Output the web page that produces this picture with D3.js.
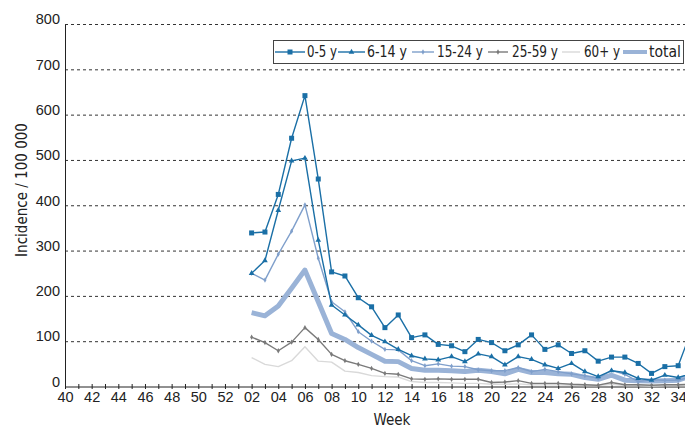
<!DOCTYPE html>
<html>
<head>
<meta charset="utf-8">
<style>
  body { margin: 0; background: #fff; }
  svg { display: block; font-family: "Liberation Sans Narrow", "DejaVu Sans Condensed", "Roboto", sans-serif; }
  .tick text { font-size: 14.5px; fill: #222; }
</style>
</head>
<body>
<svg width="685" height="430"></svg>
<script src="https://d3js.org/d3.v7.min.js"></script>
<script>

  // weeks on the axis: 40..52 then 01..35
  var allWeeks = d3.range(40, 53).concat(d3.range(1, 36)).map(function(w) { return (w < 10 ? "0" : "") + w; });
  var dataWeeks = d3.range(2, 36).map(function(w) { return (w < 10 ? "0" : "") + w; });
  var yTicks = [0, 100, 200, 300, 400, 500, 600, 700, 800];

  var age0_5   = [340, 342, 425, 549, 643, 459, 254, 245, 197, 177, 131, 159, 109, 115, 94, 91, 78, 105, 98, 80, 93, 115, 83, 93, 74, 80, 57, 66, 66, 52, 30, 45, 47, 125];
  var age6_14  = [251, 279, 390, 499, 505, 324, 181, 159, 137, 114, 100, 83, 69, 62, 60, 67, 56, 73, 67, 49, 67, 61, 49, 41, 52, 34, 23, 36, 32, 19, 15, 26, 21, 30];
  var age15_24 = [251, 236, 293, 344, 402, 284, 188, 166, 122, 101, 83, 82, 58, 47, 51, 46, 45, 38, 36, 36, 43, 34, 39, 34, 29, 25, 19, 37, 28, 12, 16, 15, 15, 22];
  var age25_59 = [110, 98, 80, 99, 131, 105, 72, 58, 50, 41, 30, 28, 18, 17, 18, 17, 17, 17, 10, 11, 14, 8, 8, 8, 6, 5, 4, 10, 5, 5, 4, 5, 5, 6];
  var age60    = [65, 50, 45, 58, 89, 57, 55, 35, 32, 25, 23, 22, 12, 10, 10, 9, 8, 8, 6, 6, 7, 5, 5, 5, 4, 3, 3, 6, 3, 3, 2, 3, 3, 3];
  var total    = [164, 157, 179, 218, 258, 188, 118, 105, 87, 72, 57, 56, 41, 37, 37, 36, 34, 37, 34, 29, 39, 32, 32, 29, 28, 21, 17, 26, 15, 14, 13, 14, 15, 25];

  var svg = d3.select("svg"),
      width = +svg.attr("width"),
      height = +svg.attr("height");

  var x0 = 65, y0 = 387, y1 = 24.5, step = 13.33;

  var x = d3.scalePoint().domain(allWeeks).range([x0, x0 + (allWeeks.length - 1) * step]);
  var y = d3.scaleLinear().domain([0, 800]).range([y0, y1]);

  // dashed grid
  svg.append("g").selectAll("line")
    .data(yTicks.slice(1))
    .enter().append("line")
      .attr("x1", x0).attr("x2", width)
      .attr("y1", function(d) { return y(d); })
      .attr("y2", function(d) { return y(d); })
      .attr("stroke", "#333").attr("stroke-width", 1)
      .attr("stroke-dasharray", "3,3");

  // y axis
  var yAxis = svg.append("g")
      .attr("transform", "translate(" + x0 + ",0)")
      .call(d3.axisLeft(y).tickValues(yTicks).tickSize(0).tickPadding(5));
  yAxis.select(".domain").attr("stroke", "#222");
  yAxis.selectAll(".tick text").attr("dy", "-0.05em").attr("font-family", null);

  // x axis
  var xAxis = svg.append("g")
      .attr("transform", "translate(0," + y0 + ")")
      .call(d3.axisBottom(x)
        .tickFormat(function(d) { return (+d % 2 === 0) ? d : ""; })
        .tickSize(3).tickSizeOuter(0).tickPadding(2));
  xAxis.select(".domain").attr("stroke", "#222").attr("d", "M" + x0 + ",0H" + width);
  xAxis.selectAll(".tick line").attr("y1", -3).attr("y2", 2).attr("stroke", "#222");
  xAxis.selectAll(".tick text").attr("font-family", null);

  // titles
  svg.append("text")
      .attr("x", 392).attr("y", 425)
      .attr("text-anchor", "middle")
      .attr("font-size", 15).attr("fill", "#222")
      .text("Week");
  svg.append("text")
      .attr("transform", "translate(27,190) rotate(-90)")
      .attr("text-anchor", "middle")
      .attr("font-size", 15).attr("fill", "#222")
      .text("Incidence / 100 000");

  var series = [
    {name: "0-5 y",   values: age0_5,   color: "#1a6fa6", width: 1.4, marker: "square"},
    {name: "6-14 y",  values: age6_14,  color: "#1a6fa6", width: 1.4, marker: "triangle"},
    {name: "15-24 y", values: age15_24, color: "#7f9fcb", width: 1.4, marker: "dot"},
    {name: "25-59 y", values: age25_59, color: "#7a7a7a", width: 1.4, marker: "dot"},
    {name: "60+ y",   values: age60,    color: "#d9d9d9", width: 1.4, marker: null},
    {name: "total",   values: total,    color: "#9ab3d7", width: 5,   marker: null}
  ];

  var line = d3.line()
      .x(function(d, i) { return x(dataWeeks[i]); })
      .y(function(d) { return y(d); });

  function marker(sel, type, color) {
    if (type === "square") {
      sel.append("rect").attr("x", -2.5).attr("y", -2.5).attr("width", 5).attr("height", 5).attr("fill", color);
    } else if (type === "triangle") {
      sel.append("path").attr("d", d3.symbol(d3.symbolTriangle, 14)).attr("fill", color);
    } else if (type === "dot") {
      sel.append("path").attr("d", d3.symbol(d3.symbolDiamond, 8)).attr("fill", color);
    }
  }

  var order = [4, 3, 5, 2, 1, 0];
  var plot = svg.append("g");
  order.forEach(function(k) {
    var s = series[k];
    var g = plot.append("g");
    g.append("path")
      .datum(s.values)
      .attr("fill", "none")
      .attr("stroke", s.color)
      .attr("stroke-width", s.width)
      .attr("stroke-linejoin", "round")
      .attr("d", line);
    if (s.marker) {
      g.selectAll(".m")
        .data(s.values)
        .enter().append("g")
          .attr("class", "m")
          .attr("transform", function(d, i) { return "translate(" + x(dataWeeks[i]) + "," + y(d) + ")"; })
          .each(function() { marker(d3.select(this), s.marker, s.color); });
    }
  });

  // legend
  var legend = svg.append("g");
  legend.append("rect")
      .attr("x", 273.5).attr("y", 40.5).attr("width", 410).attr("height", 23)
      .attr("fill", "#fff").attr("stroke", "#444").attr("stroke-width", 1);

  // line sample start/end, label start and label width
  var legPos = [
    {x1: 275, x2: 305, tx: 307, w: 30},
    {x1: 338, x2: 365, tx: 367, w: 40},
    {x1: 412, x2: 434, tx: 437, w: 46},
    {x1: 488, x2: 508, tx: 512, w: 46},
    {x1: 562, x2: 580, tx: 584, w: 36},
    {x1: 623, x2: 647, tx: 649, w: 32}
  ];
  series.forEach(function(s, i) {
    var p = legPos[i];
    var g = legend.append("g");
    g.append("line")
      .attr("x1", p.x1).attr("x2", p.x2).attr("y1", 52).attr("y2", 52)
      .attr("stroke", s.color).attr("stroke-width", s.width === 5 ? 4 : 1.4);
    if (s.marker) {
      var m = g.append("g").attr("transform", "translate(" + ((p.x1 + p.x2) / 2) + ",52)");
      marker(m, s.marker, s.color);
    }
    g.append("text")
      .attr("x", p.tx).attr("y", 57)
      .attr("font-size", 15).attr("fill", "#222")
      .attr("textLength", p.w).attr("lengthAdjust", "spacingAndGlyphs")
      .text(s.name);
  });

</script>
</body>
</html>
